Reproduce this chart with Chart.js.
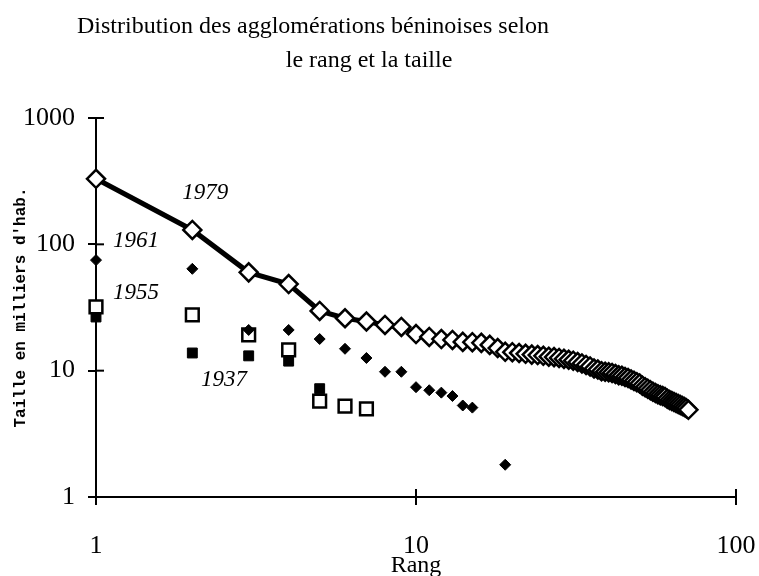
<!DOCTYPE html>
<html>
<head>
<meta charset="utf-8">
<script src="https://cdn.jsdelivr.net/npm/chart.js@4.4.0/dist/chart.umd.min.js"></script>
<style>
  body { margin: 0; background: #fff; }
  #wrap { width: 759px; height: 576px; position: relative; }
</style>
</head>
<body>
<div id="wrap"><canvas id="rangTaille"></canvas></div>
<script>
// taille des agglomérations (milliers d'hab.)
// 1979 : rang = position dans la liste (1 à 71)
const size1979 = [
  330, 130, 60, 48.5, 29.7, 26, 24.5, 23, 22.2, 19.5,
  18.5, 17.8, 17.5, 16.9, 16.8, 16.6, 16.0, 15.1, 14.1, 14.0,
  13.8, 13.6, 13.4, 13.3, 13.1, 12.9, 12.8, 12.6, 12.4, 12.2,
  12.0, 11.7, 11.4, 11.1, 10.8, 10.4, 10.2, 9.9, 9.8, 9.7,
  9.6, 9.4, 9.2, 9.1, 8.9, 8.75, 8.5, 8.3, 8.1, 7.9,
  7.6, 7.4, 7.2, 7.0, 6.8, 6.65, 6.5, 6.4, 6.3, 6.2,
  6.0, 5.85, 5.75, 5.65, 5.55, 5.45, 5.35, 5.25, 5.15, 5.05,
  4.9
];
const rank1961 = [1, 2, 3, 4, 5, 6, 7, 8, 9, 10, 11, 12, 13, 14, 15, 19];
const size1961 = [75, 64, 21, 21, 17.8, 14.9, 12.6, 9.8, 9.8, 7.4, 7.0, 6.7, 6.3, 5.3, 5.1, 1.8];
const size1955 = [32, 27.6, 19.2, 14.6, 5.75, 5.25, 4.98];
const size1937 = [26.6, 13.8, 13.1, 11.9, 7.2];

const xTicks = [1, 10, 100];
const yTicks = [1, 10, 100, 1000];
const years = ['1979', '1961', '1955', '1937'];
const titleLines = ['Distribution des agglomérations béninoises selon', 'le rang et la taille'];

function byRank(values, ranks) {
  return values.map((v, i) => ({ x: ranks ? ranks[i] : i + 1, y: v }));
}

// texte du titre, étiquettes des années et moitié intérieure des graduations
const decor = {
  id: 'decor',
  afterDraw(chart) {
    const { ctx, chartArea, scales: { x, y } } = chart;
    ctx.save();
    ctx.strokeStyle = '#000';
    ctx.lineWidth = 2;
    xTicks.forEach(v => {
      const px = x.getPixelForValue(v);
      ctx.beginPath();
      ctx.moveTo(px, chartArea.bottom);
      ctx.lineTo(px, chartArea.bottom - 8);
      ctx.stroke();
    });
    yTicks.forEach(v => {
      const py = y.getPixelForValue(v);
      ctx.beginPath();
      ctx.moveTo(chartArea.left, py);
      ctx.lineTo(chartArea.left + 8, py);
      ctx.stroke();
    });

    ctx.fillStyle = '#000';
    ctx.font = '24px "Liberation Serif"';
    ctx.textAlign = 'center';
    ctx.textBaseline = 'alphabetic';
    ctx.fillText(titleLines[0], 313, 33);
    ctx.fillText(titleLines[1], 369, 67);

    // ancres des étiquettes en coordonnées (rang, taille)
    const anchors = [[1.86, 255], [1.13, 106], [1.13, 41.2], [2.13, 8.44]];
    ctx.font = 'italic 23px "Liberation Serif"';
    ctx.textAlign = 'left';
    ctx.textBaseline = 'middle';
    years.forEach((t, i) => {
      ctx.fillText(t, x.getPixelForValue(anchors[i][0]), y.getPixelForValue(anchors[i][1]));
    });
    ctx.restore();
  }
};

const serif = 'Liberation Serif';

new Chart(document.getElementById('rangTaille'), {
  type: 'scatter',
  data: {
    datasets: [
      {
        label: years[0],
        data: byRank(size1979),
        showLine: true,
        borderColor: '#000',
        borderWidth: 5,
        pointStyle: 'rectRot',
        pointRadius: 9,
        pointBorderWidth: 2.5,
        pointBackgroundColor: '#fff',
        pointBorderColor: '#000',
        clip: false
      },
      {
        label: years[1],
        data: byRank(size1961, rank1961),
        pointStyle: 'rectRot',
        pointRadius: 5.5,
        pointBorderWidth: 1,
        pointBackgroundColor: '#000',
        pointBorderColor: '#000',
        clip: false
      },
      {
        label: years[2],
        data: byRank(size1955),
        pointStyle: 'rect',
        pointRadius: 9,
        pointBorderWidth: 2.5,
        pointBackgroundColor: '#fff',
        pointBorderColor: '#000',
        clip: false
      },
      {
        label: years[3],
        data: byRank(size1937),
        pointStyle: 'rect',
        pointRadius: 7,
        pointBorderWidth: 1,
        pointBackgroundColor: '#000',
        pointBorderColor: '#000',
        clip: false
      }
    ]
  },
  options: {
    responsive: true,
    maintainAspectRatio: false,
    animation: false,
    layout: { padding: { top: 118, right: 23, left: 0, bottom: 0 } },
    plugins: {
      legend: { display: false },
      tooltip: { enabled: false }
    },
    scales: {
      x: {
        type: 'logarithmic',
        min: 1,
        max: 100,
        afterBuildTicks: s => { s.ticks = xTicks.map(v => ({ value: v })); },
        afterFit: s => { s.height = 79; s.paddingLeft = 0; s.paddingRight = 0; },
        grid: { drawOnChartArea: false, drawTicks: true, tickLength: 8, color: '#000', lineWidth: 2 },
        border: { display: true, color: '#000', width: 2 },
        ticks: {
          color: '#000',
          font: { family: serif, size: 26 },
          padding: 26,
          maxRotation: 0,
          autoSkip: false,
          callback: v => String(v)
        },
        title: {
          display: true,
          text: 'Rang',
          color: '#000',
          font: { family: serif, size: 24 },
          padding: { top: 0, bottom: -4 }
        }
      },
      y: {
        type: 'logarithmic',
        min: 1,
        max: 1000,
        afterBuildTicks: s => { s.ticks = yTicks.map(v => ({ value: v })); },
        afterFit: s => { s.width = 96; s.paddingTop = 0; s.paddingBottom = 0; },
        grid: { drawOnChartArea: false, drawTicks: true, tickLength: 8, color: '#000', lineWidth: 2 },
        border: { display: true, color: '#000', width: 2 },
        ticks: {
          color: '#000',
          font: { family: serif, size: 26 },
          padding: 13,
          autoSkip: false,
          callback: v => String(v)
        },
        title: {
          display: true,
          text: "Taille en milliers d'hab.",
          color: '#000',
          font: { family: 'Liberation Mono', size: 16, weight: 'bold' },
          padding: { top: 11, bottom: 0 }
        }
      }
    }
  },
  plugins: [decor]
});
</script>
</body>
</html>
